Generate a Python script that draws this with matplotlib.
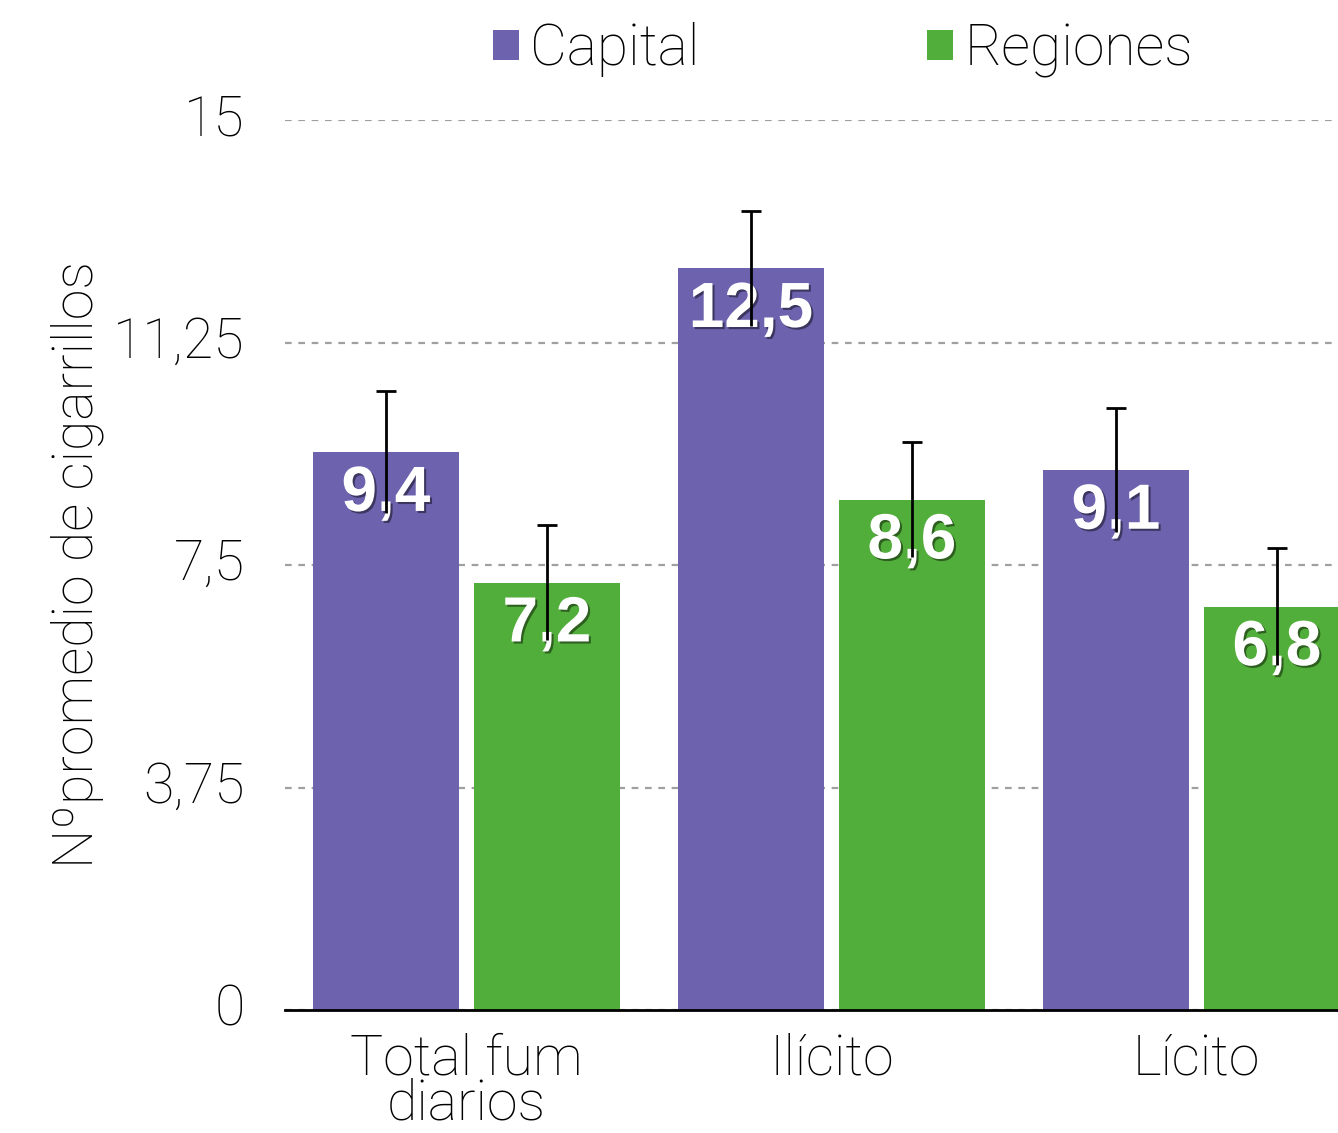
import matplotlib
matplotlib.use('Agg')
import matplotlib.pyplot as plt
import matplotlib.patheffects as pe
import matplotlib.transforms as mtrans
import numpy as np

# data
categories = ['Total fum\ndiarios', 'Ilícito', 'Lícito']
capital = [9.4, 12.5, 9.1]
regiones = [7.2, 8.6, 6.8]
capital_err = [1.03, 0.97, 1.05]
regiones_err = [0.97, 0.97, 0.99]
yticks = [0, 3.75, 7.5, 11.25, 15]
ytick_labels = ['0', '3,75', '7,5', '11,25', '15']

purple = '#6C62AE'
green = '#52AE3A'

plt.rcParams['font.family'] = ['Roboto', 'DejaVu Sans']
plt.rcParams['font.weight'] = 'light'
plt.rcParams['axes.labelweight'] = 'light'

fig = plt.figure(figsize=(13.38, 11.33), dpi=100)
ax = fig.add_axes([285 / 1338, 1 - 1010 / 1133, 1 - 285 / 1338, (1010 - 120) / 1133])

x = np.arange(len(categories))
w = 0.4
off = 0.2205

b1 = ax.bar(x - off, capital, w, color=purple, label='Capital', zorder=2)
b2 = ax.bar(x + off, regiones, w, color=green, label='Regiones', zorder=2)

shadow = [pe.SimplePatchShadow(offset=(1.5, -1.5), shadow_rgbFace='black', alpha=0.45), pe.Normal()]
for xs, vals in [(x - off, capital), (x + off, regiones)]:
    for xi, v in zip(xs, vals):
        ax.annotate(f'{v:.1f}'.replace('.', ','), (xi, v), xytext=(0, -30), textcoords='offset points',
                    ha='center', va='center', color='white', fontsize=46, fontweight='bold',
                    family='Liberation Sans', path_effects=shadow, zorder=3)

for xs, vals, errs in [(x - off, capital, capital_err), (x + off, regiones, regiones_err)]:
    eb = ax.errorbar(xs, vals, yerr=errs, fmt='none', ecolor='black', elinewidth=2,
                     capsize=7, capthick=2, zorder=4)
    eb[1][0].set_visible(False)  # lower caps hidden behind the labels

ax.set_ylim(0, 15)
ax.set_xlim(-0.497, 2.388)
ax.set_yticks(yticks)
ax.set_yticklabels(ytick_labels)
ax.set_xticks(x)
ax.set_xticklabels(categories, linespacing=0.82)
ax.tick_params(axis='both', length=0, labelsize=40)
ax.tick_params(axis='y', pad=29)
ax.tick_params(axis='x', pad=16)
# nudge y tick labels up a little
shift = mtrans.ScaledTranslation(0, 6 / 100, fig.dpi_scale_trans)
for lab in ax.get_yticklabels():
    lab.set_transform(lab.get_transform() + shift)

ax.yaxis.grid(True, linestyle=(0, (3, 3)), color='#A0A0A0', linewidth=1.6, zorder=0)
ax.set_axisbelow(True)
for s in ['top', 'right', 'left']:
    ax.spines[s].set_visible(False)
ax.spines['bottom'].set_linewidth(2)
ax.spines['bottom'].set_zorder(5)

ax.set_ylabel('Nºpromedio de cigarrillos', fontsize=40)
ax.yaxis.set_label_coords(-0.172, 0.5)

fig.legend(handles=[b1, b2], loc='center', bbox_to_anchor=(843 / 1338, 1 - 50 / 1133), ncol=2,
           frameon=False, fontsize=41, handlelength=0.45, handleheight=0.45,
           handletextpad=0.2, columnspacing=4.0)

plt.savefig('out.png', dpi=100)
